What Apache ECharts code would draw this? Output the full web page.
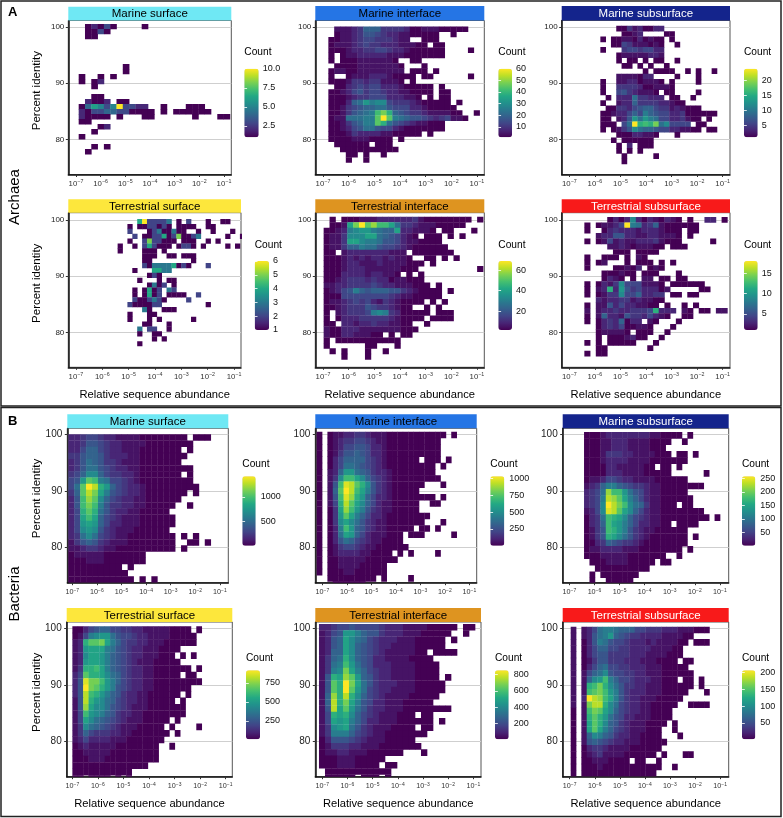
<!DOCTYPE html>
<html><head><meta charset="utf-8">
<style>html,body{margin:0;padding:0;background:#fff}#c{width:783px;height:818px}</style>
<script src="https://cdn.jsdelivr.net/npm/echarts@6/dist/echarts.min.js"></script>
</head><body><div id="c"></div>
<script>
// Heat-map rows, top row first. Each character is one bin: "." = empty, otherwise a base-36 colour level.
const archaeaMarineSurface=[".12131....1",".1131",".11","","","","","",".......1",".......1","1..1.1","1.12","..1","","..11",".2112.11","146535a3322..1...111","213344331111.1.111111","21111.1...11......1...11","11","...12","..1","1","","..1.1",".1"];
const archaeaMarineInterface=[".22234777444431122211111",".122346654332211111..1","11223455444322..111","12223454433322211.11","11123344554332111111....1","1.122333332221111111","1.1112222221..11",".111122222221...1","1221122222222.111.1","1..122233321111.11......1","1112443442221.1",".11345455333211111.1","112356455433221111.11","1112344555333221.1.11","111378b9aa54443211111.1","1124567788655533211111","11246789egd765443222211..1","12288899fkf9876654345221","11246799fd8654322111","11235688655321111111","1112433332211111.1","11112221111.1",".111111.111","..1111111111","...11.1..1","...1..1"];
const archaeaMarineSubsurface=["...114231133","....1123....11","1.1122131211.1","..1154222121..1","1...45545533","...122222332","...1.11.1.11..1","....11.1.1..1","........1.1111..1.1..1","...2222133....1...1","1..223312221.1....1","1..44443112221","1..56432221.11....1",".1.333844333.11..1","1..2337444433211",".114435677544232111","1123357597655334111111","11.236b8b9855334211.1","111.58kdedg8a5555.11","1.1246a877655332211.11","...11133221...1","..1.111111","...1.3.111","...1.1.1","....1.....1","....1"];
const archaeaTerrestrialSurface=["....4622223.1.2...1..11","..1.1122121.1111..11","..2...12311311..1..1...1","...2.112241251123.....1..1","..1..2522111.111..1.1","1..1.242111.1221.1....1.1","1....111.1",".....111..11.111",".....11........1",".....2133334121...2","...1...4433","......121","....1...1.11","......1312.1","...1.1412.32","...1.1412.1111..2","...2112321....2","..2111122.........1",".....31..111","..1...11","..1...1.1......1",".....11...1","....3.22..1","....1..11",".......1.1","....1"];
const archaeaTerrestrialInterface=[".1.1112223333334211111111.1",".112cgkfheec844322211111","11239abb9877c332221.11...1","1224aaacc8765321.111.1.1","1224cca9986653221111","122477988655432111111","11.23333333222.1111111","111232323323221..11.1.1","11123322232222111.1","1112333222222111..........1","1113333233221.1.1","11234443433122111","223344445433222111.1","12356976777664321111.1","11155555555432211111","12234545324321111.1.1","112344465443211..1.1","1.2344459a94311111.111","1.133344444321111.1111","11.332334332211..1","2113332222222111","2113322211.1.11","1.11111111111","1......11...1",".1.1...1..1","...1...1"];
const archaeaTerrestrialSubsurface=["....1313a31321321.1..33.1","1.12235k983472111111","1..13433323332111.11","..233663322332221.1","1.125232233342111.....1","....2232122211.111",".....111.1111","1..111.1.21","1.12...1.111.1.1","1....11213.121","...111211.111...1","...1321.1.22.11.11","1.1324a5552221.111111","1.23d3b64533312.....11","1.1244a5573344.11.11","..323344232211","1.22635332211.1..1.1","2.2334334445d333.21.11.22","1.2733264435321..11","1.13437133.21...1","..1343511221...1","..122221.111..1","..1.1112311..1","1.1.11111...1","..11.......1","1.11"];
const bacteriaMarineSurface=["33455433222211111111.111","334665433222211111111","3357754332221111111.1","44677643332211111111","3468764432221111111","346886543322111111111","457aa75443321111111.1","56bfe9855432111111111","58fkidb754332111111111","47figc96543321111111.1","36ehfa7543322111111","36ege9644332211111..1","35dfd864332211111","35cec7543222111111","35bcb7533222111111","35aba643222111111","348a85432211111111.1.1","246764322211111111..11.1","223443221111111111.1","1222221111111","1112221111111","111111111.1","1111111111","11111111111.1.1"];
const bacteriaMarineInterface=["1.1223344322211111111111.1","1.123445543221111111111","1.123556653321111111111","1.124667653321111111111","1.13577775432111111.111.1","1.13588765432111111111.1","1.237bb876433211111111","1.24aeeca75432111111111","1.26ejifda6432111111...1","1.27fkiec9643211111","1.26ejhdb7533211111111.1","1.25difca7532211111..11","1.14cheb96432211111","1.14bfc97533211111111","1.14aca8643221111111...1","1.139eb76432211111.11.1","1.138cb753222111.111.....1","1.13687543221111","1.124554322111111","1.123333221111.1.1....1","1.1122222111111","1.11222211111","1.11122111111","..111111111.1....1","...111111"];
const bacteriaMarineSubsurface=["111233333333221111.1","1112233322221111..1","111223332222111","1112444332222111.11.1","1112333322221111111","1111332222211.11.1","1111333222211111......1","1223554332222111111","2347997654432211111111","3458heeb86532211111","3459ihfc975322111111","345akigea87422111.11","235ajifca7532211111111","1348edca754322111111111.1","1347ecb975332211.1111","1246edb964322111111","1246dca864321111111.1","1134765443211111111","122333322211111111.1","111222221111111..1",".111222211111.11","..1111111111",".1.1111111",".1..11111"];
const bacteriaTerrestrialSurface=["1135677554433222221111.1","1259abb8655433222211111","23dffgc9754433222111111","23bccc98654332221111","23accb9765433222111.1.1","23bccb97654322211111","24ddec9765433221111111.1","35fddca8754332211111.11","36jggeb97543322111111111","36kgfdb965433221111111","36iedb97643322111111.1","26idba8754332211111.1","26hcaa865432221111111","25eba9764332211111111","25ca87654322211111.1","24a87654322211111.1....1","247544433221111111.1","23533332221111111","1232222211111111..1","1122222111111111","1112221111111111","11111111111111","11111111111","11.1111.1.1"];
const bacteriaTerrestrialInterface=["33455655554333222211111.11","2356bb9766433322211111..1","2367ca875433322211111.1","2367ca765433222211111","2377ca765432222211.1111","2478da7653322221111","2489eb86533322221111","249agc97543322221111","26dchfb7643322221111.1","26fdkgc86433322211111","26fdkfb85433222211111","27hdida7543222211111","27idgc9653322211111","26icfb8643322211111111","25dcda7543222111.11","25cbc97533222111111.1","24abc86432221111.11","249997543221111111","1366654322211111","12444332221111111","12233222111111...1","11122211111","1112221111.11",".11111111111",".11111.111.1"];
const bacteriaTerrestrialSubsurface=["2.235899877755444333222111","2.23689b765443333222211","2.13698655433323222211.111","2.1357755443333222211","2.1356644443332222111","2.124664443332221111.11","2.13578554433322211111","2.2578a6554433222111111","2.27abe9755433322111.11.1","2.2degda864433222111111.1","2.2efgeb96433322211111...1","2.3kihec9643322211111","2.2giida854332211111..1111","1.2egfca75433221111","1.2dfdb865332221111","1.2cfda76432221111.1","1.2cfc97543222111..1","1.27a976433221111...1","1.2676543322211111","1.134432222111111","1.12342222111111.1...11","1.112221111.11..1","1.111211111111111..1","1.11111111111111"];

const xTicks=[-7,-6,-5,-4,-3,-2,-1];
const yTicks=[80,90,100];
const viridis=['#440154','#482475','#414487','#355f8d','#2a788e','#21918c','#22a884','#44bf70','#7ad151','#bddf26','#fde725'];

// Bin geometry in data units: [first x edge, x width, top y edge, y height]
const binsA=[[-6.89,.2554,100.53,.89],[-6.79,.2266,100.06,.929],[-5.787,.2074,100.18,.944],[-5.418,.1857,100.18,.87],[-6.974,.23,100.59,.977],[-6.413,.2238,100.53,.952]];
const binsB=[[-7.163,.2412,100,1.091],[-7.231,.2197,100.47,1.103],[-6.416,.2167,100.41,1.121],[-7,.2109,100.35,1.145],[-7.132,.2384,100.77,1.109],[-6.96,.2128,100.3,1.103]];

const W='#fff',K='#000';
const panels=[
 {t:'Marine surface',rows:archaeaMarineSurface,b:binsA[0],r:[68.3,231.3,20.5,174.5],x:[-7.311,-.703],y:[73.77,101.13],s:[6.7,'#6fe8f4',K],lg:[244.3,68.7,14.4,68.6,52],c:[1,10],lv:9,tk:[2.5,5,7.5,10],f:1,yt:1},
 {t:'Marine interface',rows:archaeaMarineInterface,b:binsA[1],r:[315.3,484.3,20.5,174.5],x:[-7.299,-.714],y:[73.77,101.13],s:[6,'#2575e5',K],lg:[498.3,68.7,13.7,68.6,52],c:[1,60],lv:19,tk:[10,20,30,40,50,60]},
 {t:'Marine subsurface',rows:archaeaMarineSubsurface,b:binsA[2],r:[561.7,730,20.5,174.5],x:[-7.3,-.713],y:[73.77,101.13],s:[6,'#14248c',W],lg:[744,68.7,13.7,68.6,52],c:[1,24],lv:19,tk:[5,10,15,20]},
 {t:'Terrestrial surface',rows:archaeaTerrestrialSurface,b:binsA[3],r:[68.3,241,212.7,367.3],x:[-7.291,-.734],y:[73.77,101.31],s:[199.3,'#fde73c',K],lg:[254.7,261,14.4,69,245],c:[1,6],lv:5,tk:[1,2,3,4,5,6],yt:1,xt:1},
 {t:'Terrestrial interface',rows:archaeaTerrestrialInterface,b:binsA[4],r:[315.3,484.3,212.7,367.3],x:[-7.299,-.714],y:[73.77,101.31],s:[199.3,'#de9420',K],lg:[498.3,261,13.7,69,245],c:[1.5,69],lv:19,tk:[20,40,60],xt:1},
 {t:'Terrestrial subsurface',rows:archaeaTerrestrialSubsurface,b:binsA[5],r:[561.7,730,212.7,367.3],x:[-7.3,-.713],y:[73.77,101.31],s:[199.3,'#f81a1a',W],lg:[744,261,13.7,69,245],c:[1,18],lv:19,tk:[5,10,15],xt:1},
 {t:'Marine surface',rows:bacteriaMarineSurface,b:binsB[0],r:[67.3,228.3,428.3,582.7],x:[-7.203,-.659],y:[73.75,101.06],s:[414.3,'#6fe8f4',K],lg:[242.3,476.3,13.4,69.4,464.3],c:[14,1419],lv:19,tk:[500,1000],yt:1},
 {t:'Marine interface',rows:bacteriaMarineInterface,b:binsB[1],r:[315.3,476.7,428.3,582.7],x:[-7.286,-.7],y:[73.75,101.06],s:[414.3,'#2575e5',K],lg:[490.3,476.3,14,69.4,464.3],c:[1,1030],lv:19,tk:[250,500,750,1000]},
 {t:'Marine subsurface',rows:bacteriaMarineSubsurface,b:binsB[2],r:[562.7,728.7,428.3,582.7],x:[-7.266,-.652],y:[73.75,101.06],s:[414.3,'#14248c',W],lg:[742,476.3,13.3,69.4,464.3],c:[1,257],lv:19,tk:[50,100,150,200,250]},
 {t:'Terrestrial surface',rows:bacteriaTerrestrialSurface,b:binsB[3],r:[66.7,232.3,622,776.7],x:[-7.222,-.74],y:[73.75,101.12],s:[608,'#fde73c',K],lg:[246,670.3,14,69,658],c:[5,918],lv:19,tk:[250,500,750],yt:1,xt:1},
 {t:'Terrestrial interface',rows:bacteriaTerrestrialInterface,b:binsB[4],r:[315.3,481,622,776.7],x:[-7.278,-.695],y:[73.75,101.12],s:[608,'#de9420',K],lg:[495,670.3,13.7,69,658],c:[3,854],lv:19,tk:[200,400,600,800],xt:1},
 {t:'Terrestrial subsurface',rows:bacteriaTerrestrialSubsurface,b:binsB[5],r:[562.7,728.7,622,776.7],x:[-7.279,-.657],y:[73.75,101.12],s:[608,'#f81a1a',W],lg:[742,670.3,13.3,69,658],c:[1,207],lv:19,tk:[50,100,150,200],xt:1}
];

const FONT='"Liberation Sans",Arial,sans-serif';
const grid=[],xAxis=[],yAxis=[],series=[],visualMap=[];
const graphic=[
 {type:'rect',shape:{x:1,y:1,width:780,height:405},style:{fill:'none',stroke:'#222',lineWidth:1.5},z:1},
 {type:'rect',shape:{x:1,y:407.5,width:780,height:409},style:{fill:'none',stroke:'#222',lineWidth:1.5},z:1},
 {type:'text',x:8,y:6,style:{text:'A',font:'bold 13px '+FONT,fill:'#000'}},
 {type:'text',x:8,y:415,style:{text:'B',font:'bold 13px '+FONT,fill:'#000'}},
 {type:'text',x:15,y:197,rotation:Math.PI/2,style:{text:'Archaea',font:'15px '+FONT,fill:'#000',align:'center',verticalAlign:'middle'}},
 {type:'text',x:15,y:594,rotation:Math.PI/2,style:{text:'Bacteria',font:'15px '+FONT,fill:'#000',align:'center',verticalAlign:'middle'}}
];
function cells(p){
 const d=[];const [x0,w,yT,h]=p.b;const step=(p.c[1]-p.c[0])/p.lv;
 p.rows.forEach((row,ri)=>{[...row].forEach((ch,ci)=>{
  if(ch==='.')return;
  d.push([x0+w*(ci+.5),yT-h*(ri+.5),p.c[0]+(parseInt(ch,36)-1)*step]);
 });});
 return d;
}
panels.forEach((p,i)=>{
 const [l,r,t,b]=p.r, gi=grid.length, xi=xAxis.length, yi=yAxis.length, isA=i<6;
 grid.push({left:l,top:t,width:r-l,height:b-t,show:true,borderColor:'#555',borderWidth:1,backgroundColor:'#fff',containLabel:false});
 const xf=isA?7.8:7.2, xs=isA?5.3:5;
 xAxis.push({type:'value',gridIndex:gi,min:p.x[0],max:p.x[1],
  name:p.xt?'Relative sequence abundance':'',nameLocation:'middle',nameGap:22,nameTextStyle:{fontFamily:FONT,fontSize:11.2,color:'#000'},
  axisLine:{show:true,onZero:false,lineStyle:{color:'#111',width:1.5}},
  axisTick:{show:true,length:2.5,lineStyle:{color:'#333'},customValues:xTicks},
  splitLine:{show:false},
  axisLabel:{show:true,customValues:xTicks,margin:5,hideOverlap:false,color:'#333',fontFamily:FONT,fontSize:xf,
    formatter:v=>'10{s|−'+Math.abs(Math.round(v))+'}',rich:{s:{fontSize:xs,fontFamily:FONT,color:'#333',padding:[0,0,4,0]}}}});
 yAxis.push({type:'value',gridIndex:gi,min:p.y[0],max:p.y[1],
  axisLine:{show:true,onZero:false,lineStyle:{color:'#111',width:1.5}},
  axisTick:{show:true,length:2.5,lineStyle:{color:'#333'},customValues:yTicks},
  splitLine:{show:true,lineStyle:{color:'#cfcfcf',width:1}},
  axisLabel:{show:true,customValues:yTicks,margin:isA?4:5,color:'#222',fontFamily:FONT,fontSize:isA?8:10}});
 const sIdx=series.length;
 const w=p.b[1],h=p.b[3];
 series.push({type:'custom',xAxisIndex:xi,yAxisIndex:yi,clip:true,silent:true,animation:false,
  encode:{x:0,y:1},data:cells(p),
  renderItem:(params,api)=>{
   const a=api.coord([api.value(0)-w/2,api.value(1)+h/2]),c=api.coord([api.value(0)+w/2,api.value(1)-h/2]);
   return {type:'rect',shape:{x:a[0],y:a[1],width:c[0]-a[0]+.35,height:c[1]-a[1]+.35},style:{fill:api.visual('color')}};
  }});
 const [lx,ly,lw,lh,ct]=p.lg;
 visualMap.push({type:'continuous',seriesIndex:sIdx,dimension:2,min:p.c[0],max:p.c[1],show:true,calculable:false,hoverLink:false,
  left:lx,top:ly,itemWidth:lw,itemHeight:lh,padding:0,inRange:{color:viridis}});
 // legend scale: tick marks and labels come from a value axis laid over the colour bar
 const lg=grid.length,lxi=xAxis.length;
 grid.push({left:lx,top:ly,width:lw,height:lh,show:false,containLabel:false});
 xAxis.push({type:'value',gridIndex:lg,min:0,max:1,show:false});
 const fmt=p.f?(v=>v.toFixed(1)):(v=>String(v));
 yAxis.push({type:'value',gridIndex:lg,min:p.c[0],max:p.c[1],position:'right',z:20,
  axisLine:{show:false},splitLine:{show:false},
  axisTick:{show:true,inside:true,length:2.8,lineStyle:{color:'#fff',width:.8},customValues:p.tk},
  axisLabel:{show:true,inside:false,customValues:p.tk,margin:isA?4:5,color:'#111',fontFamily:FONT,fontSize:9,formatter:fmt}});
 yAxis.push({type:'value',gridIndex:lg,min:p.c[0],max:p.c[1],position:'left',z:20,
  axisLine:{show:false},splitLine:{show:false},
  axisTick:{show:true,inside:true,length:2.8,lineStyle:{color:'#fff',width:.8},customValues:p.tk},
  axisLabel:{show:false}});
 series.push({type:'line',xAxisIndex:lxi,yAxisIndex:yAxis.length-2,data:[],silent:true});
 series.push({type:'line',xAxisIndex:lxi,yAxisIndex:yAxis.length-1,data:[],silent:true});
 graphic.push({type:'rect',shape:{x:l,y:p.s[0],width:r-l,height:t-p.s[0]},style:{fill:p.s[1]},z:2});
 graphic.push({type:'text',x:(l+r)/2,y:(p.s[0]+t)/2+.5,style:{text:p.t,font:'11.5px '+FONT,fill:p.s[2],align:'center',verticalAlign:'middle'},z:3});
 graphic.push({type:'text',x:lx,y:ct,style:{text:'Count',font:'10.2px '+FONT,fill:'#000',verticalAlign:'middle'},z:3});
 if(p.yt)graphic.push({type:'text',x:36.5,y:(p.s[0]+b)/2,rotation:Math.PI/2,style:{text:'Percent identity',font:'11.5px '+FONT,fill:'#000',align:'center',verticalAlign:'middle'},z:3});
});
const chart=echarts.init(document.getElementById('c'),null,{renderer:'canvas'});
chart.setOption({animation:false,backgroundColor:'#fff',grid,xAxis,yAxis,series,visualMap,graphic,tooltip:{show:false}});
</script></body></html>
